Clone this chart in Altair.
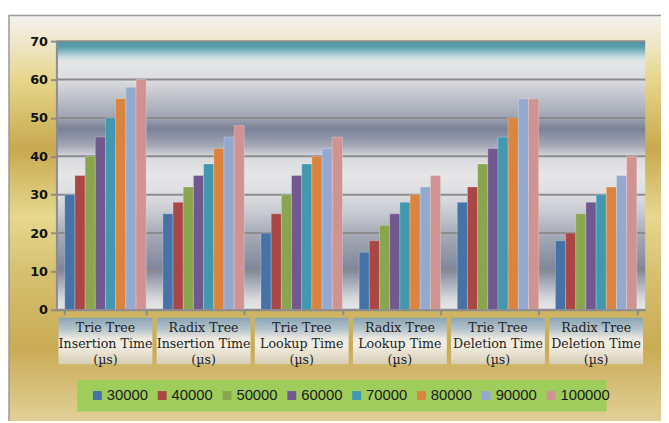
import altair as alt
import pandas as pd

categories = [
    "Trie Tree\nInsertion Time\n(µs)",
    "Radix Tree\nInsertion Time\n(µs)",
    "Trie Tree\nLookup Time\n(µs)",
    "Radix Tree\nLookup Time\n(µs)",
    "Trie Tree\nDeletion Time\n(µs)",
    "Radix Tree\nDeletion Time\n(µs)",
]
series = ["30000", "40000", "50000", "60000", "70000", "80000", "90000", "100000"]
colors = ["#4572a7", "#aa4643", "#89a54e", "#71588f", "#4198af", "#db843d", "#93a9cf", "#d19392"]

trie_insertion = [30, 35, 40, 45, 50, 55, 58, 60]
radix_insertion = [25, 28, 32, 35, 38, 42, 45, 48]
trie_lookup = [20, 25, 30, 35, 38, 40, 42, 45]
radix_lookup = [15, 18, 22, 25, 28, 30, 32, 35]
trie_deletion = [28, 32, 38, 42, 45, 50, 55, 55]
radix_deletion = [18, 20, 25, 28, 30, 32, 35, 40]
y_ticks = [0, 10, 20, 30, 40, 50, 60, 70]

all_values = [trie_insertion, radix_insertion, trie_lookup, radix_lookup, trie_deletion, radix_deletion]
rows = []
for c, vals in zip(categories, all_values):
    for s, v in zip(series, vals):
        rows.append({"cat": c, "series": s, "value": v})
df = pd.DataFrame(rows)
cat_df = pd.DataFrame({"cat": categories})
grid_df = pd.DataFrame({"value": y_ticks})
one = pd.DataFrame({"a": [0]})

W, H = 596, 272

def grad(stops):
    return alt.Gradient(gradient="linear", x1=0, y1=0, x2=0, y2=1,
                        stops=[alt.GradientStop(offset=o, color=c) for o, c in stops])

gold = grad([(0, "#f4f2ee"), (0.067, "#efe6c8"), (0.154, "#e6d68a"), (0.316, "#c8a94f"),
             (0.478, "#e6d88e"), (0.614, "#d6c070"), (0.789, "#c9ab55"), (1.0, "#e6d8a4")])
metal = grad([(0, "#4f94a2"), (0.022, "#5e9eac"), (0.04, "#8cbcc4"), (0.059, "#c8dcdf"),
              (0.077, "#e4e6e8"), (0.143, "#dcdde0"), (0.206, "#c0c3cb"), (0.287, "#9ea3b2"),
              (0.327, "#7a8198"), (0.39, "#a4a8b6"), (0.43, "#d8d9de"), (0.5, "#e6e6e8"),
              (0.574, "#dcdde1"), (0.647, "#c4c7ce"), (0.713, "#a8acb8"), (0.794, "#9096a8"),
              (0.85, "#80869a"), (0.904, "#acb0bc"), (0.96, "#d8dadf"), (1.0, "#e6e7e9")])
boxg = grad([(0, "#8aa4b4"), (0.25, "#b4c4cc"), (0.45, "#ece9e0"), (0.6, "#f2eee2"), (1.0, "#d8ceb6")])

xscale = alt.Scale(domain=categories, paddingInner=0.17, paddingOuter=0.085)
yscale = alt.Scale(domain=[0, 70], nice=False)
yaxis = alt.Axis(values=y_ticks, grid=False, labelFont="DejaVu Sans", labelFontWeight="bold",
                 labelFontSize=13, labelColor="#111111", domainColor="#8c8c8c", domainWidth=2,
                 tickColor="#8c8c8c", tickWidth=2, tickSize=6, labelPadding=3, zindex=1, title=None)
xaxis = alt.Axis(labels=False, title=None, grid=False, domainColor="#8c8c8c", domainWidth=2,
                 tickColor="#8c8c8c", tickWidth=2, tickSize=5, tickBand="extent", zindex=1)

bg = alt.Chart(one).mark_rect(fill=gold, stroke="#9a9a9a", strokeWidth=1.5).encode(
    x=alt.value(-48), x2=alt.value(660), y=alt.value(-26), y2=alt.value(400))
plotbg = alt.Chart(one).mark_rect(fill=metal).encode(
    x=alt.value(0), x2=alt.value(W), y=alt.value(0), y2=alt.value(H))
grid = alt.Chart(grid_df).mark_rule(color="#8c8c8c", strokeWidth=2).encode(
    y=alt.Y("value:Q", scale=yscale, axis=yaxis, title=None))

bars = alt.Chart(df).mark_bar(stroke="#ffffff", strokeOpacity=0.3, strokeWidth=0.8).encode(
    x=alt.X("cat:N", scale=xscale, sort=categories, title=None, axis=xaxis),
    xOffset=alt.XOffset("series:N", sort=series, scale=alt.Scale(domain=series)),
    y=alt.Y("value:Q", scale=yscale, title=None, axis=yaxis),
    color=alt.Color("series:N", sort=series,
                    scale=alt.Scale(domain=series, range=colors),
                    legend=alt.Legend(orient="none", legendX=34, legendY=351, direction="horizontal",
                                      title=None, symbolType="square", symbolSize=81, symbolStrokeWidth=0,
                                      symbolOpacity=1, labelFont="Liberation Sans", labelFontSize=15,
                                      labelColor="#1a1a1a", labelOffset=2, columnPadding=6.6,
                                      padding=0, zindex=2)),
)

boxes = alt.Chart(cat_df).mark_bar(width=95, fill=boxg).encode(
    x=alt.X("cat:N", scale=xscale, sort=categories, title=None, axis=xaxis),
    y=alt.value(280), y2=alt.value(327))
labels = alt.Chart(cat_df).mark_text(font="DejaVu Serif", fontSize=12.8, lineBreak="\n", lineHeight=16.5,
                                     baseline="middle", color="#222222").encode(
    x=alt.X("cat:N", scale=xscale, sort=categories, title=None, axis=xaxis),
    y=alt.value(290), text="cat:N")
legbox = alt.Chart(one).mark_rect(fill="#9fcd5b").encode(
    x=alt.value(21), x2=alt.value(557), y=alt.value(343), y2=alt.value(375))

chart = alt.layer(bg, plotbg, grid, bars, boxes, labels, legbox).properties(
    width=W, height=H,
    autosize=alt.AutoSizeParams(type="none"),
    padding={"left": 49, "top": 31, "right": 16, "bottom": 110},
).configure_view(stroke=None)

chart.save("out.html", embed_options={"renderer": "svg", "actions": False})
